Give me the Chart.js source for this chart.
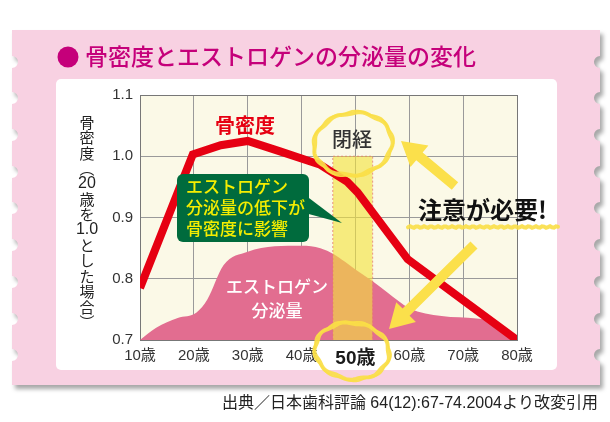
<!DOCTYPE html>
<html>
<head>
<meta charset="utf-8">
<script src="https://cdn.jsdelivr.net/npm/chart.js@4.4.1/dist/chart.umd.min.js"></script>
<style>
  html, body { margin: 0; padding: 0; background: #fff; }
  canvas { display: block; }
</style>
</head>
<body>
<canvas id="chart" width="610" height="422"></canvas>
<script>
// ---- data ----
const ageTicks = [10, 20, 30, 40, 50, 60, 70, 80];
const densityTicks = [0.7, 0.8, 0.9, 1.0, 1.1];

// bone density (20 years = 1.0)
const boneAges   = [10, 19.8, 25, 30, 36, 43.5, 46, 48.5, 50.4, 55, 59.7, 70, 80];
const boneValues = [0.785, 1.003, 1.018, 1.025, 1.008, 0.986, 0.972, 0.958, 0.941, 0.887, 0.832, 0.765, 0.70];

// estrogen secretion (drawn as an area, same scale)
const estroAges   = [10, 13, 17, 20.5, 22.5, 25.5, 30, 35, 40, 43.5, 46, 48, 50, 53, 56, 60, 66, 72.5, 76, 78, 80];
const estroValues = [0.70, 0.72, 0.736, 0.745, 0.766, 0.822, 0.844, 0.853, 0.854, 0.85, 0.84, 0.828, 0.815, 0.797, 0.777, 0.752, 0.739, 0.735, 0.729, 0.718, 0.70];

// menopause band
const menopauseAges = [45.8, 53.2];
const menopauseTop = 1.0;

const JP = "'Noto Sans CJK JP', sans-serif";
const NUM = "'Liberation Sans', 'Noto Sans CJK JP', sans-serif";

function zip(xs, ys) {
  return xs.map(function (x, i) { return { x: x, y: ys[i] }; });
}

function rrect(ctx, x, y, w, h, r) {
  ctx.beginPath();
  ctx.moveTo(x + r, y);
  ctx.arcTo(x + w, y, x + w, y + h, r);
  ctx.arcTo(x + w, y + h, x, y + h, r);
  ctx.arcTo(x, y + h, x, y, r);
  ctx.arcTo(x, y, x + w, y, r);
  ctx.closePath();
}

function arrow(ctx, x0, y0, x1, y1, w, hl, hw) {
  const a = Math.atan2(y1 - y0, x1 - x0);
  const L = Math.hypot(x1 - x0, y1 - y0);
  ctx.save();
  ctx.translate(x1, y1);
  ctx.rotate(a);
  ctx.beginPath();
  ctx.moveTo(-L, -w / 2);
  ctx.lineTo(-hl, -w / 2);
  ctx.lineTo(-hl, -hw / 2);
  ctx.lineTo(0, 0);
  ctx.lineTo(-hl, hw / 2);
  ctx.lineTo(-hl, w / 2);
  ctx.lineTo(-L, w / 2);
  ctx.closePath();
  ctx.fill();
  ctx.restore();
}

// wobbly yellow marker ellipse
function markerEllipse(ctx, cx, cy, rx, ry, tilt) {
  ctx.save();
  ctx.translate(cx, cy);
  ctx.rotate(tilt);
  ctx.strokeStyle = 'rgba(250,222,70,0.92)';
  ctx.lineCap = 'round';
  [[0, 4], [1.4, 1.8]].forEach(function (p) {
    ctx.lineWidth = p[1];
    ctx.beginPath();
    for (let i = 0; i <= 90; i++) {
      const t = i / 90 * Math.PI * 2.05 + 0.3;
      const wob = Math.sin(t * 9 + p[0]) * 0.9 + p[0];
      const x = (rx + wob) * Math.cos(t);
      const y = (ry + wob) * Math.sin(t);
      if (i === 0) ctx.moveTo(x, y); else ctx.lineTo(x, y);
    }
    ctx.stroke();
  });
  ctx.restore();
}

const stampNotches = [62, 98, 135, 172, 208, 245, 282, 319, 355];

const decor = {
  id: 'decor',
  beforeDraw: function (chart) {
    const ctx = chart.ctx;
    const area = chart.chartArea;
    ctx.save();
    ctx.fillStyle = '#fff';
    ctx.fillRect(0, 0, chart.width, chart.height);

    // pink stamp with scalloped sides
    const x0 = 12, y0 = 30, x1 = 600, y1 = 385, r = 6;
    ctx.beginPath();
    ctx.moveTo(x0, y0);
    ctx.lineTo(x1, y0);
    stampNotches.forEach(function (y) {
      ctx.lineTo(x1, y - r);
      ctx.arc(x1, y, r, -Math.PI / 2, Math.PI / 2, true);
    });
    ctx.lineTo(x1, y1);
    ctx.lineTo(x0, y1);
    stampNotches.slice().reverse().forEach(function (y) {
      ctx.lineTo(x0, y + r);
      ctx.arc(x0, y, r, Math.PI / 2, -Math.PI / 2, true);
    });
    ctx.closePath();
    ctx.shadowColor = 'rgba(0,0,0,0.35)';
    ctx.shadowOffsetX = 3;
    ctx.shadowOffsetY = 4;
    ctx.shadowBlur = 4;
    ctx.fillStyle = '#f8d1e2';
    ctx.fill();
    ctx.shadowColor = 'transparent';

    // white panel
    ctx.fillStyle = '#fff';
    rrect(ctx, 56, 79, 501, 291, 5);
    ctx.fill();

    // title
    ctx.fillStyle = '#c5007a';
    ctx.beginPath();
    ctx.arc(68, 57, 10.5, 0, Math.PI * 2);
    ctx.fill();
    ctx.font = '500 23px ' + JP;
    ctx.textBaseline = 'middle';
    ctx.textAlign = 'left';
    ctx.fillText('骨密度とエストロゲンの分泌量の変化', 85, 56);

    // plot background
    ctx.fillStyle = '#fbf9e7';
    ctx.fillRect(area.left, area.top, area.right - area.left, area.bottom - area.top);

    // vertical y-axis title
    const tokens = ['骨', '密', '度', '︵', '20', '歳', 'を', '1.0', 'と', 'し', 'た', '場', '合', '︶'];
    ctx.fillStyle = '#222';
    ctx.textAlign = 'center';
    tokens.forEach(function (t, i) {
      ctx.font = (/[0-9]/.test(t) ? '16px ' + NUM : '15px ' + JP);
      ctx.fillText(t, 87, 122 + i * 15.4);
    });

    // source
    ctx.font = '16px ' + NUM;
    ctx.textAlign = 'right';
    ctx.fillStyle = '#222';
    ctx.fillText('出典／日本歯科評論 64(12):67-74.2004より改変引用', 598, 404);
    ctx.restore();
  },
  afterDatasetsDraw: function (chart) {
    const ctx = chart.ctx;
    ctx.save();
    ctx.textBaseline = 'middle';

    // labels in the plot
    ctx.textAlign = 'center';
    ctx.fillStyle = '#e60012';
    ctx.font = 'bold 20px ' + JP;
    ctx.fillText('骨密度', 245, 125);

    ctx.fillStyle = '#333';
    ctx.font = '500 20px ' + JP;
    ctx.fillText('閉経', 352, 139);

    ctx.fillStyle = '#fff';
    ctx.font = '500 17px ' + JP;
    ctx.fillText('エストロゲン', 277, 287);
    ctx.fillText('分泌量', 277, 311);

    // green callout
    ctx.fillStyle = '#006b3d';
    rrect(ctx, 177, 174, 132, 68, 6);
    ctx.fill();
    ctx.beginPath();
    ctx.moveTo(305, 195);
    ctx.lineTo(342, 223);
    ctx.lineTo(305, 213);
    ctx.closePath();
    ctx.fill();
    ctx.fillStyle = '#f5ee00';
    ctx.font = '500 17px ' + JP;
    ctx.textAlign = 'left';
    ctx.fillText('エストロゲン', 186, 187);
    ctx.fillText('分泌量の低下が', 186, 208);
    ctx.fillText('骨密度に影響', 186, 229);

    // arrows
    ctx.fillStyle = '#fbe04b';
    arrow(ctx, 455, 186, 401, 141, 10, 24, 28);
    arrow(ctx, 474, 245, 389, 329, 10, 24, 28);

    // 注意が必要!
    ctx.fillStyle = '#111';
    ctx.font = 'bold 24px ' + JP;
    ctx.textAlign = 'left';
    ctx.fillText('注意が必要!', 418, 210);

    // squiggly underline
    ctx.strokeStyle = 'rgba(250,222,70,0.9)';
    ctx.lineCap = 'round';
    ctx.lineWidth = 4;
    ctx.beginPath();
    for (let x = 408; x <= 558; x += 2) {
      const y = 227 + Math.sin(x * 0.9) * 0.8;
      if (x === 408) ctx.moveTo(x, y); else ctx.lineTo(x, y);
    }
    ctx.stroke();

    // marker circles
    markerEllipse(ctx, 353, 144, 39, 31, -0.15);
    markerEllipse(ctx, 352, 351, 37, 28, 0.12);
    ctx.restore();
  }
};

new Chart(document.getElementById('chart'), {
  type: 'line',
  data: {
    datasets: [
      {
        label: '骨密度',
        data: zip(boneAges, boneValues),
        borderColor: '#e60012',
        borderWidth: 8,
        pointRadius: 0,
        tension: 0,
        fill: false,
        order: 0
      },
      {
        label: '閉経',
        data: [
          { x: menopauseAges[0], y: densityTicks[0] },
          { x: menopauseAges[0], y: menopauseTop },
          { x: menopauseAges[1], y: menopauseTop },
          { x: menopauseAges[1], y: densityTicks[0] }
        ],
        borderColor: 'rgba(230,120,110,0.8)',
        borderWidth: 1,
        borderDash: [2, 2],
        backgroundColor: 'rgba(242,226,62,0.62)',
        pointRadius: 0,
        tension: 0,
        fill: 'start',
        order: 1
      },
      {
        label: 'エストロゲン分泌量',
        data: zip(estroAges, estroValues),
        borderWidth: 0,
        borderColor: 'rgba(0,0,0,0)',
        backgroundColor: '#e26d90',
        pointRadius: 0,
        cubicInterpolationMode: 'monotone',
        fill: 'start',
        order: 2
      }
    ]
  },
  options: {
    responsive: false,
    animation: false,
    layout: { padding: { left: 0, right: 93, top: 95, bottom: 52 } },
    plugins: {
      legend: { display: false },
      tooltip: { enabled: false }
    },
    scales: {
      x: {
        type: 'linear',
        min: ageTicks[0],
        max: ageTicks[ageTicks.length - 1],
        afterBuildTicks: function (scale) {
          scale.ticks = ageTicks.map(function (v) { return { value: v }; });
        },
        afterFit: function (scale) { scale.height = 30; },
        grid: {
          color: function (c) { return c.tick && c.tick.value === 80 ? '#777' : '#9a9a9a'; },
          lineWidth: 1,
          drawTicks: false
        },
        border: { color: '#777' },
        ticks: {
          padding: 7,
          maxRotation: 0,
          autoSkip: false,
          color: function (c) { return c.tick && c.tick.value === 50 ? '#1a1a1a' : '#333'; },
          font: function (c) {
            return c.tick && c.tick.value === 50
              ? { family: NUM, size: 19, weight: 'bold' }
              : { family: NUM, size: 15 };
          },
          callback: function (v) { return v + '歳'; }
        }
      },
      y: {
        min: densityTicks[0],
        max: densityTicks[densityTicks.length - 1],
        afterBuildTicks: function (scale) {
          scale.ticks = densityTicks.map(function (v) { return { value: v }; });
        },
        afterFit: function (scale) { scale.width = 140; },
        grid: {
          color: function (c) { return c.tick && c.tick.value === 1.1 ? '#777' : '#9a9a9a'; },
          lineWidth: 1,
          drawTicks: false
        },
        border: { color: '#777' },
        ticks: {
          padding: 7,
          color: '#333',
          font: { family: NUM, size: 15 },
          callback: function (v) { return Number(v).toFixed(1); }
        }
      }
    }
  },
  plugins: [decor]
});
</script>
</body>
</html>
